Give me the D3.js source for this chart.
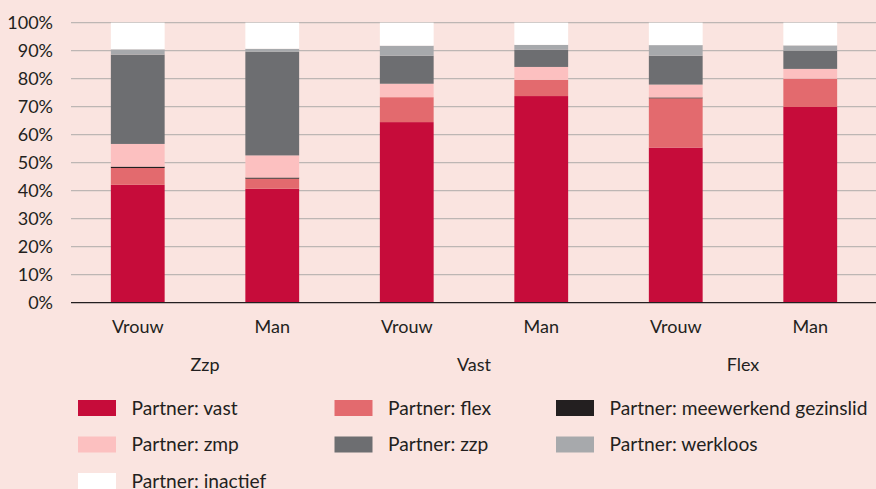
<!DOCTYPE html>
<html>
<head>
<meta charset="utf-8">
<script src="https://cdn.jsdelivr.net/npm/d3@7"></script>
<style>
html,body{margin:0;padding:0;background:#fae4e0;}
svg{display:block;}
text{font-family:Lato, "Open Sans", sans-serif;fill:#231f20;}
</style>
</head>
<body>
<svg id="chart" width="876" height="489"></svg>
<script>
// ---- data ----
const groups = ["Zzp", "Vast", "Flex"];
const genders = ["Vrouw", "Man"];
const barGroups = ["Zzp","Zzp","Vast","Vast","Flex","Flex"];
const barGenders = ["Vrouw","Man","Vrouw","Man","Vrouw","Man"];

const seriesNames = ["Partner: vast","Partner: flex","Partner: meewerkend gezinslid","Partner: zmp","Partner: zzp","Partner: werkloos","Partner: inactief"];
const vast       = [42.1, 40.7, 64.5, 73.8, 55.4, 69.9];
const flex       = [6.0, 3.6, 8.9, 5.8, 17.6, 10.1];
const meewerkend = [0.5, 0.4, 0.0, 0.0, 0.3, 0.0];
const zmp        = [8.1, 7.9, 4.8, 4.6, 4.6, 3.5];
const zzp        = [31.9, 37.0, 10.0, 6.1, 10.3, 6.5];
const werkloos   = [1.9, 1.1, 3.6, 1.8, 3.8, 1.9];
const inactief   = [9.5, 9.3, 8.2, 7.9, 8.0, 8.1];
const yTicks = [0,10,20,30,40,50,60,70,80,90,100];

const colors = ["#c60c3a","#e36a6e","#231f20","#fcc0c0","#6d6e71","#a7a9ac","#ffffff"];
const seriesValues = [vast, flex, meewerkend, zmp, zzp, werkloos, inactief];

// ---- build table ----
const keys = seriesNames;
const table = barGroups.map((g,i)=>{
  const row = {id: i, group: g, gender: barGenders[i]};
  keys.forEach((k,j)=> row[k] = seriesValues[j][i]);
  return row;
});
const stacked = d3.stack().keys(keys)(table);

const svg = d3.select("#chart");
const x = d3.scaleBand().domain(table.map(d=>d.id)).range([70.5, 877.5]).paddingInner(0.6).paddingOuter(0.3);
const y = d3.scaleLinear().domain([0,100]).range([302.7, 22.7]);
const color = d3.scaleOrdinal().domain(keys).range(colors);

// gridlines
svg.append("g").selectAll("line").data(yTicks.filter(t=>t>0)).join("line")
  .attr("x1", 71).attr("x2", 876)
  .attr("y1", d=>y(d)).attr("y2", d=>y(d))
  .attr("stroke", "#bdb6b4").attr("stroke-width", 1.3);

// y labels
svg.append("g").selectAll("text").data(yTicks).join("text")
  .attr("x", 53).attr("y", d=>y(d)).attr("dy","0.36em")
  .attr("text-anchor","end").attr("font-size", 18)
  .text(d=>d+"%");

// bars
svg.append("g").selectAll("g").data(stacked).join("g")
  .attr("fill", d=>color(d.key))
  .selectAll("rect").data(d=>d).join("rect")
  .attr("x", d=>x(d.data.id))
  .attr("width", x.bandwidth())
  .attr("y", d=>y(d[1]))
  .attr("height", d=>Math.max(0, y(d[0])-y(d[1])));

// baseline
svg.append("line").attr("x1",71).attr("x2",876).attr("y1",y(0)).attr("y2",y(0))
  .attr("stroke","#231f20").attr("stroke-width",1.3);

// x labels
svg.append("g").selectAll("text").data(table).join("text")
  .attr("x", d=>x(d.id)+x.bandwidth()/2).attr("y", 333)
  .attr("text-anchor","middle").attr("font-size",18)
  .text(d=>d.gender);

svg.append("g").selectAll("text").data(groups).join("text")
  .attr("x", (g)=>{
    const ids = table.filter(d=>d.group===g).map(d=>x(d.id)+x.bandwidth()/2);
    return d3.mean(ids);
  })
  .attr("y", 371)
  .attr("text-anchor","middle").attr("font-size",18)
  .text(d=>d);

// legend
const colX = [78, 334.5, 556];
const legend = svg.append("g").selectAll("g").data(keys).join("g")
  .attr("transform", (d,i)=>`translate(${colX[i%3]},${400 + Math.floor(i/3)*36.5})`);
legend.append("rect").attr("width",38).attr("height",16).attr("fill", d=>color(d));
legend.append("text").attr("x",53.5).attr("y",14.5).attr("font-size",19.2).text(d=>d);
</script>
</body>
</html>
